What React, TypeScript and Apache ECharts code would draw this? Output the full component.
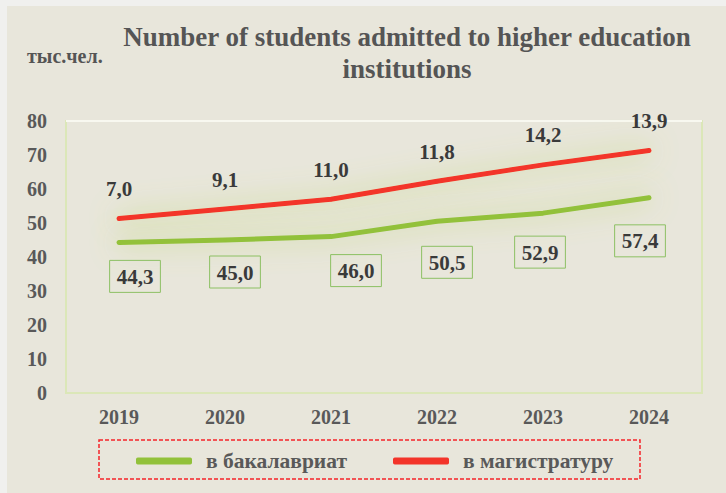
import React, { useEffect, useRef } from 'react';
import * as echarts from 'echarts';

const years = ['2019', '2020', '2021', '2022', '2023', '2024'];
const bachelor = [44.3, 45.0, 46.0, 50.5, 52.9, 57.4];
const master = [7.0, 9.1, 11.0, 11.8, 14.2, 13.9];
const seriesNames = ['в бакалавриат', 'в магистратуру'];
const titleText = 'Number of students admitted to higher education\ninstitutions';
const unitText = 'тыс.чел.';

// layout only: hand-placed label boxes in the original
const greenLabelShift = [[16, 0], [10, -2], [25, 0], [10, 7], [-3, 5], [-9, 9]];

const SERIF = "'Times New Roman', 'Liberation Serif', serif";
const BG = '#e8e6db';
const GREEN = '#92c13a';
const RED = '#f3342a';
const fmt = (v: number) => Number(v).toFixed(1).replace('.', ',');

export default function App() {
  const ref = useRef<HTMLDivElement>(null);
  useEffect(() => {
    document.body.style.margin = '0';
    const chart = echarts.init(ref.current!, null, { renderer: 'svg' });
    const glow = { shadowColor: 'rgba(178,208,85,0.85)', shadowBlur: 28 };
    chart.setOption({
      animation: false,
      backgroundColor: BG,
      graphic: [
        { type: 'rect', shape: { x: 0, y: 0, width: 726, height: 6 }, style: { fill: '#f0f0ee' }, z: 100 },
        { type: 'rect', shape: { x: 0, y: 0, width: 7, height: 493 }, style: { fill: '#f0f0ee' }, z: 100 },
        { type: 'line', shape: { x1: 66, y1: 121, x2: 702, y2: 121 }, style: { stroke: '#f8f8f0', lineWidth: 2 }, z: 1 },
        {
          type: 'text', x: 407, y: 21,
          style: { text: titleText, textAlign: 'center', fill: '#555555', font: `bold 27px ${SERIF}`, lineHeight: 32 },
        },
        {
          type: 'text', x: 27, y: 46,
          style: { text: unitText, fill: '#555555', font: `bold 20px ${SERIF}` },
        },
        {
          type: 'rect', shape: { x: 99, y: 440, width: 541, height: 39 },
          style: { fill: 'none', stroke: '#f5252a', lineWidth: 1.5, lineDash: [4, 2] },
        },
      ],
      grid: {
        left: 66, right: 24, top: 121, bottom: 100,
        show: true, backgroundColor: 'transparent', borderColor: '#dbe7b8', borderWidth: 2,
      },
      legend: {
        data: seriesNames,
        left: 136, top: 450, padding: 0,
        icon: 'roundRect', itemWidth: 56, itemHeight: 7, itemGap: 46,
        itemStyle: { shadowBlur: 0 },
        lineStyle: { shadowBlur: 0 },
        textStyle: { fontFamily: SERIF, fontWeight: 'bold', fontSize: 21.5, color: '#595959', padding: [0, 0, 0, 9] },
      },
      xAxis: {
        type: 'category', data: years, boundaryGap: true,
        axisLine: { show: false }, axisTick: { show: false }, splitLine: { show: false },
        axisLabel: { margin: 14, fontFamily: SERIF, fontWeight: 'bold', fontSize: 20, color: '#595959' },
      },
      yAxis: {
        type: 'value', min: 0, max: 80, interval: 10,
        axisLine: { show: false }, axisTick: { show: false }, splitLine: { show: false },
        axisLabel: { margin: 19, fontFamily: SERIF, fontWeight: 'bold', fontSize: 20, color: '#595959' },
      },
      series: [
        {
          name: seriesNames[0], type: 'line', stack: 'total', color: GREEN,
          symbol: 'circle', symbolSize: 4,
          itemStyle: { color: GREEN },
          lineStyle: { color: GREEN, width: 5, cap: 'round', join: 'round', ...glow },
          data: bachelor.map((v, i) => ({
            value: v,
            label: { offset: greenLabelShift[i] },
          })),
          label: {
            show: true, position: 'bottom', distance: 16,
            formatter: (p: any) => fmt(p.value),
            fontFamily: SERIF, fontWeight: 'bold', fontSize: 21, color: '#3a3a3a',
            borderColor: '#8cc063', borderWidth: 1, padding: [6, 7, 5, 7],
          },
          z: 3,
        },
        {
          name: seriesNames[1], type: 'line', stack: 'total', color: RED,
          symbol: 'circle', symbolSize: 4,
          itemStyle: { color: RED },
          lineStyle: { color: RED, width: 5, cap: 'round', join: 'round', ...glow },
          data: master,
          label: {
            show: true, position: 'top', distance: 17,
            formatter: (p: any) => fmt(p.value),
            fontFamily: SERIF, fontWeight: 'bold', fontSize: 21, color: '#3a3a3a',
          },
          z: 4,
        },
      ],
    });
    return () => chart.dispose();
  }, []);
  return <div ref={ref} style={{ width: 726, height: 493 }} />;
}
